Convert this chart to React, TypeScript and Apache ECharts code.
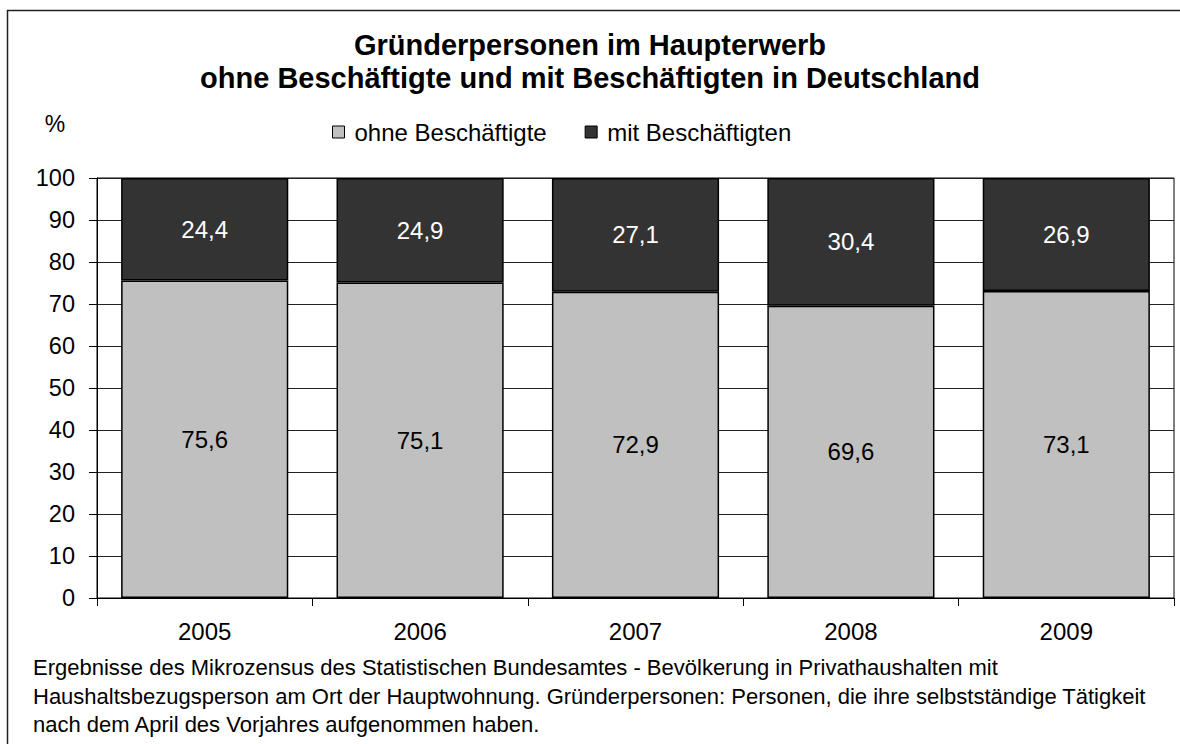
import React, { useEffect, useRef } from "react";
import * as echarts from "echarts";

const years = ["2005", "2006", "2007", "2008", "2009"];
const ohneBeschaeftigte = [75.6, 75.1, 72.9, 69.6, 73.1];
const mitBeschaeftigten = [24.4, 24.9, 27.1, 30.4, 26.9];
const seriesNames = ["ohne Beschäftigte", "mit Beschäftigten"];
const titleLines = [
  "Gründerpersonen im Haupterwerb",
  "ohne Beschäftigte und mit Beschäftigten in Deutschland",
];
const footnoteLines = [
  "Ergebnisse des Mikrozensus des Statistischen Bundesamtes - Bevölkerung in Privathaushalten mit",
  "Haushaltsbezugsperson am Ort der Hauptwohnung. Gründerpersonen: Personen, die ihre selbstständige Tätigkeit",
  "nach dem April des Vorjahres aufgenommen haben.",
];

const FONT = "'Liberation Sans', Arial, sans-serif";

export default function App() {
  const ref = useRef<HTMLDivElement>(null);
  useEffect(() => {
    if (!ref.current) return;
    const chart = echarts.init(ref.current, null, { renderer: "svg" });
    const fmt = (p: any) => String(p.value).replace(".", ",");
    chart.setOption({
      animation: false,
      backgroundColor: "#fff",
      textStyle: { fontFamily: FONT },
      title: {
        text: titleLines.join("\n"),
        left: "center",
        top: 23,
        textStyle: {
          fontFamily: FONT,
          fontSize: 29,
          fontWeight: "bold",
          lineHeight: 33,
          color: "#000",
        },
      },
      legend: {
        data: seriesNames,
        left: 332,
        top: 120,
        padding: 0,
        icon: "rect",
        itemWidth: 12,
        itemHeight: 12,
        itemGap: 38,
        itemStyle: { borderColor: "#000", borderWidth: 1 },
        textStyle: {
          fontFamily: FONT,
          fontSize: 24,
          color: "#000",
          padding: [0, 0, 0, 5],
        },
      },
      grid: {
        left: 97,
        right: 6,
        top: 178,
        bottom: 146,
        show: true,
        borderColor: "#000",
        borderWidth: 1,
        backgroundColor: "transparent",
      },
      xAxis: {
        type: "category",
        data: years,
        axisLine: { show: true, lineStyle: { color: "#000", width: 1 } },
        axisTick: { show: true, length: 8, alignWithLabel: false, lineStyle: { color: "#000" } },
        axisLabel: { fontFamily: FONT, fontSize: 24, color: "#000", margin: 21 },
      },
      yAxis: {
        type: "value",
        min: 0,
        max: 100,
        interval: 10,
        axisLine: { show: true, lineStyle: { color: "#000", width: 1 } },
        axisTick: { show: true, length: 8, lineStyle: { color: "#000" } },
        axisLabel: { fontFamily: FONT, fontSize: 23.5, color: "#000", margin: 22 },
        splitLine: { show: true, lineStyle: { color: "#222", width: 1 } },
      },
      series: [
        {
          name: seriesNames[0],
          type: "bar",
          stack: "total",
          barWidth: "77.6%",
          data: ohneBeschaeftigte,
          itemStyle: { color: "#c0c0c0", borderColor: "#000", borderWidth: 1.5 },
          label: {
            show: true,
            position: "inside",
            formatter: fmt,
            fontFamily: FONT,
            fontSize: 24,
            color: "#000",
          },
        },
        {
          name: seriesNames[1],
          type: "bar",
          stack: "total",
          barWidth: "77.6%",
          data: mitBeschaeftigten,
          itemStyle: { color: "#333333", borderColor: "#000", borderWidth: 1.5 },
          label: {
            show: true,
            position: "inside",
            formatter: fmt,
            fontFamily: FONT,
            fontSize: 24,
            color: "#fff",
          },
        },
      ],
      graphic: [
        {
          type: "rect",
          silent: true,
          shape: { x: 7.5, y: 10.5, width: 2000, height: 2000 },
          style: { fill: "none", stroke: "#222", lineWidth: 1.5 },
        },
        {
          type: "text",
          x: 55,
          y: 124,
          style: {
            text: "%",
            font: `23px ${FONT}`,
            fill: "#000",
            align: "center",
            verticalAlign: "middle",
          },
        },
        ...footnoteLines.map((t, i) => ({
          type: "text",
          x: 33,
          y: 667.5 + i * 28.7,
          style: {
            text: t,
            font: `22px ${FONT}`,
            fill: "#000",
            align: "left",
            verticalAlign: "middle",
          },
        })),
      ],
    });
    return () => chart.dispose();
  }, []);
  return (
    <div
      ref={ref}
      style={{ position: "absolute", left: 0, top: 0, width: 1180, height: 744 }}
    />
  );
}
